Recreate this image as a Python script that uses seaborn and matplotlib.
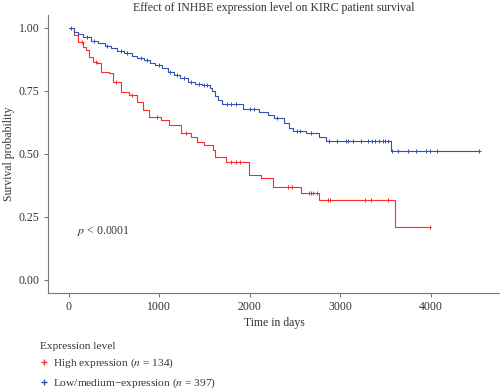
import numpy as np
import pandas as pd
import seaborn as sns
import matplotlib
matplotlib.use('Agg')
import matplotlib.pyplot as plt
from matplotlib.lines import Line2D

# Kaplan-Meier step points (time in days, survival)
high_time = [0, 55, 110, 155, 188, 221, 265, 320, 354, 442, 486, 575, 663, 762, 818, 884,
             1017, 1105, 1238, 1348, 1425, 1492, 1591, 1624, 1735, 1989, 2122, 2254,
             2570, 2765, 3613, 3989]
high_surv = [1.0, 0.972, 0.944, 0.925, 0.913, 0.885, 0.865, 0.861, 0.825, 0.821, 0.786, 0.746,
             0.734, 0.706, 0.675, 0.647, 0.635, 0.613, 0.583, 0.567, 0.548, 0.536, 0.516,
             0.488, 0.468, 0.417, 0.405, 0.369, 0.345, 0.317, 0.21, 0.21]
high_cens = [150, 300, 520, 700, 980, 1300, 1800, 1850, 1900, 2420, 2464, 2652, 2674, 2696,
             2751, 2862, 2884, 3271, 3337, 3525, 3989]

low_time = [0, 60, 100, 160, 243, 330, 400, 464, 540, 608, 700, 760, 829, 900, 960, 1030,
            1094, 1160, 1230, 1315, 1400, 1470, 1560, 1590, 1620, 1650, 1700, 1923, 2100,
            2199, 2265, 2376, 2431, 2475, 2619, 2763, 2840, 3558, 4541]
low_surv = [1.0, 0.985, 0.976, 0.965, 0.948, 0.94, 0.93, 0.92, 0.91, 0.90, 0.89, 0.882, 0.873,
            0.862, 0.852, 0.84, 0.826, 0.815, 0.80, 0.786, 0.778, 0.772, 0.762, 0.75, 0.73,
            0.715, 0.698, 0.679, 0.667, 0.655, 0.643, 0.623, 0.603, 0.591, 0.583, 0.567,
            0.552, 0.512, 0.512]
low_cens = [30, 200, 280, 430, 580, 650, 800, 870, 1000, 1120, 1200, 1280, 1350, 1440, 1500,
            1530, 1750, 1800, 1850, 2000, 2050, 2300, 2520, 2560, 2680, 2873, 2972, 3061,
            3083, 3149, 3227, 3304, 3348, 3392, 3426, 3470, 3500, 3525, 3580, 3636, 3746,
            3845, 3945, 3989, 4077, 4541]

groups = ['High expression ($n$ = 134)', 'Low/medium\u2212expression ($n$ = 397)']
colors = ['#ff2a2a', '#3550b0']


def surv_at(times, survs, t):
    idx = np.searchsorted(times, t, side='right') - 1
    return survs[idx]


curves = pd.concat([
    pd.DataFrame({'time': high_time, 'surv': high_surv, 'group': groups[0]}),
    pd.DataFrame({'time': low_time, 'surv': low_surv, 'group': groups[1]}),
])
cens = pd.concat([
    pd.DataFrame({'time': high_cens, 'surv': [surv_at(high_time, high_surv, t) for t in high_cens],
                  'group': groups[0]}),
    pd.DataFrame({'time': low_cens, 'surv': [surv_at(low_time, low_surv, t) for t in low_cens],
                  'group': groups[1]}),
])

sns.set_style('white')
plt.rcParams['font.family'] = ['Liberation Serif', 'DejaVu Serif']
plt.rcParams['mathtext.fontset'] = 'stix'
txt = '#333333'

fig = plt.figure(figsize=(5, 3.91), dpi=100)
ax = fig.add_axes([0.096, 0.251, 0.904, 0.711])

pal = dict(zip(groups, colors))
sns.lineplot(data=curves, x='time', y='surv', hue='group', palette=pal, estimator=None,
             drawstyle='steps-post', linewidth=0.8, legend=False, ax=ax)
sns.scatterplot(data=cens, x='time', y='surv', hue='group', palette=pal, marker='+',
                s=8, linewidth=0.7, legend=False, ax=ax)

ax.set_xlim(-227, 4768)
ax.set_ylim(-0.052, 1.052)
ax.set_xticks([0, 1000, 2000, 3000, 4000])
ax.set_yticks([0, 0.25, 0.5, 0.75, 1.0])
ax.set_yticklabels(['0.00', '0.25', '0.50', '0.75', '1.00'])
for s in ['top', 'right']:
    ax.spines[s].set_visible(False)
for s in ['left', 'bottom']:
    ax.spines[s].set_color('#777777')
    ax.spines[s].set_linewidth(0.8)
ax.tick_params(axis='both', colors='#777777', labelcolor=txt, labelsize=8.5,
               length=3, width=0.8, left=True, bottom=True, pad=3)
ax.set_xlabel('Time in days', fontsize=8.5, color=txt, labelpad=3)
ax.set_ylabel('Survival probability', fontsize=8.5, color=txt)
ax.yaxis.set_label_coords(-0.072, 0.5)
ax.set_title('Effect of INHBE expression level on KIRC patient survival', fontsize=8.5,
             color=txt, pad=3)
ax.text(88, 0.195, '$p$ < 0.0001', fontsize=8.5, color=txt, va='center', ha='left')

handles = [Line2D([], [], color=c, marker='+', linestyle='none', markersize=5,
                  markeredgewidth=1) for c in colors]
leg = fig.legend(handles, groups, title='Expression level', loc='upper left',
                 bbox_to_anchor=(0.07, 0.137), frameon=False, fontsize=8.2,
                 title_fontsize=8.2, handlelength=0.8, handletextpad=0.4,
                 labelspacing=0.52, borderaxespad=0)
leg._legend_box.align = 'left'
for t in leg.get_texts():
    t.set_color(txt)
leg.get_title().set_color(txt)

fig.savefig('out.png', dpi=100)
